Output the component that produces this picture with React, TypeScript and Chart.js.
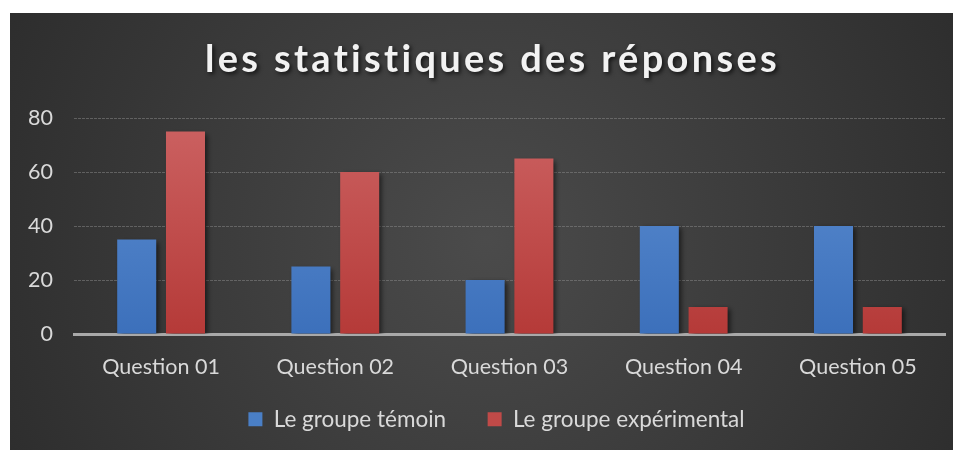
import React, { useEffect, useRef } from "react";
import { Chart, registerables } from "chart.js";

Chart.register(...registerables);

const categories = ["Question 01", "Question 02", "Question 03", "Question 04", "Question 05"];
const temoinValues = [35, 25, 20, 40, 40];
const experimentalValues = [75, 60, 65, 10, 10];
const seriesNames = ["Le groupe témoin", "Le groupe expérimental"];
const titleText = "les statistiques des réponses";

const FONT = "Lato";
const TEXT_COLOR = "#d9d9d9";
const TICK_SIZE = 21.5;
const LEGEND_SIZE = 22.5;

function barGradient(ctx: any, top: string, bottom: string, fallback: string) {
  const chart = ctx.chart;
  const area = chart.chartArea;
  if (!area) return fallback;
  const g = chart.ctx.createLinearGradient(0, area.top, 0, area.bottom);
  g.addColorStop(0, top);
  g.addColorStop(1, bottom);
  return g;
}

const backgroundPlugin = {
  id: "darkBackground",
  beforeDraw(chart: any) {
    const { ctx, width, height } = chart;
    ctx.save();
    const g = ctx.createRadialGradient(width * 0.5, height * 0.52, 0, width * 0.5, height * 0.52, width * 0.62);
    g.addColorStop(0, "#4b4b4b");
    g.addColorStop(1, "#2a2a2a");
    ctx.fillStyle = g;
    ctx.fillRect(0, 0, width, height);
    ctx.restore();
  },
};

const legendShiftPlugin = {
  id: "legendShift",
  afterLayout(chart: any) {
    const lg = chart.legend;
    if (lg) {
      lg.left += 14;
      lg.right += 14;
    }
  },
};

const titlePlugin = {
  id: "shadowTitle",
  afterDraw(chart: any) {
    const { ctx, width } = chart;
    ctx.save();
    ctx.font = `bold 38px "${FONT}"`;
    (ctx as any).letterSpacing = "3.3px";
    ctx.textAlign = "center";
    ctx.textBaseline = "middle";
    ctx.shadowColor = "rgba(0,0,0,0.7)";
    ctx.shadowBlur = 4;
    ctx.shadowOffsetX = 2;
    ctx.shadowOffsetY = 2;
    ctx.fillStyle = "#f2f2f2";
    ctx.fillText(titleText, width / 2 + 7, 47);
    ctx.restore();
  },
};

const barShadowPlugin = {
  id: "barShadow",
  beforeDatasetsDraw(chart: any) {
    const ctx = chart.ctx;
    ctx.save();
    ctx.shadowColor = "rgba(0,0,0,0.55)";
    ctx.shadowBlur = 5;
    ctx.shadowOffsetX = 3;
    ctx.shadowOffsetY = 2;
  },
  afterDatasetsDraw(chart: any) {
    chart.ctx.restore();
  },
};

export default function App() {
  const canvasRef = useRef<HTMLCanvasElement | null>(null);

  useEffect(() => {
    if (!canvasRef.current) return;
    const chart = new Chart(canvasRef.current, {
      type: "bar",
      data: {
        labels: categories,
        datasets: [
          {
            label: seriesNames[0],
            data: temoinValues,
            backgroundColor: (c: any) => barGradient(c, "#5e8fd2", "#3c70bb", "#4a7fc6"),
            borderWidth: 0,
            categoryPercentage: 0.56,
            barPercentage: 0.8,
          },
          {
            label: seriesNames[1],
            data: experimentalValues,
            backgroundColor: (c: any) => barGradient(c, "#cc6262", "#b53a38", "#c04a48"),
            borderWidth: 0,
            categoryPercentage: 0.56,
            barPercentage: 0.8,
          },
        ],
      },
      options: {
        responsive: false,
        animation: false,
        layout: { padding: { top: 105, left: 10, right: 16, bottom: 16 } },
        plugins: {
          title: { display: false },
          tooltip: { enabled: false },
          legend: {
            position: "bottom",
            maxHeight: 56,
            labels: {
              color: TEXT_COLOR,
              font: { family: FONT, size: LEGEND_SIZE },
              boxWidth: 14,
              boxHeight: 14,
              padding: 30,
              generateLabels: (chart: any) =>
                chart.data.datasets.map((ds: any, i: number) => ({
                  text: i === 0 ? ds.label + "  " : ds.label,
                  fillStyle: i === 0 ? "#4a7fc6" : "#c04a48",
                  strokeStyle: "transparent",
                  lineWidth: 0,
                  fontColor: TEXT_COLOR,
                  datasetIndex: i,
                  hidden: false,
                })),
            },
          },
        },
        scales: {
          x: {
            afterFit: (s: any) => {
              s.height = 44;
            },
            grid: { display: false, drawTicks: false },
            border: { display: true, color: "#a9a9a9", width: 3 },
            ticks: { color: TEXT_COLOR, font: { family: FONT, size: TICK_SIZE }, padding: 20 },
          },
          y: {
            min: 0,
            max: 80,
            afterFit: (s: any) => {
              s.width = 54;
            },
            ticks: {
              stepSize: 20,
              color: TEXT_COLOR,
              font: { family: FONT, size: TICK_SIZE },
              padding: 21,
            },
            border: { display: false, dash: [3, 1] },
            grid: {
              drawTicks: false,
              color: (c: any) => (c.tick && c.tick.value === 0 ? "rgba(0,0,0,0)" : "rgba(140,140,140,0.5)"),
              lineWidth: 1,
            },
          },
        },
      },
      plugins: [backgroundPlugin, legendShiftPlugin, barShadowPlugin, titlePlugin],
    });
    return () => chart.destroy();
  }, []);

  return (
    <div style={{ paddingLeft: 2, paddingTop: 5 }}>
      <canvas ref={canvasRef} width={951} height={437} style={{ display: "block" }} />
    </div>
  );
}
